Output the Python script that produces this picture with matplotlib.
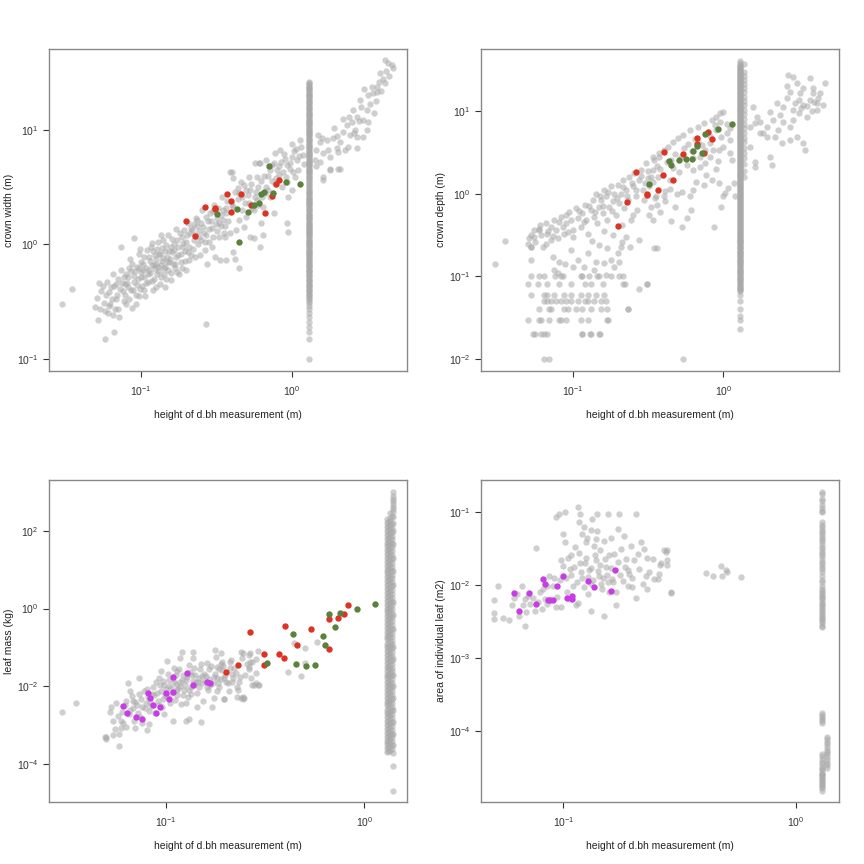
import numpy as np
import matplotlib
matplotlib.use("Agg")
import matplotlib.pyplot as plt
from matplotlib.ticker import FixedLocator, NullLocator, FuncFormatter

plt.rcParams['font.family'] = ['Liberation Sans', 'DejaVu Sans']
plt.rcParams['mathtext.fontset'] = 'custom'
plt.rcParams['mathtext.rm'] = 'Liberation Sans'
plt.rcParams['mathtext.it'] = 'Liberation Sans:italic'

GREY = '#a9a9a9'
RED = '#dd3322'
GREEN = '#5a823c'
MAGENTA = '#c83ce6'

# ---------------- crown width vs height of dbh measurement ----------------
cw_grey = [
    (0.030, 0.30), (0.035, 0.41), (0.058, 0.15), (0.067, 0.17), (0.27, 0.20),
    (0.050, 0.285), (0.053, 0.46), (0.051, 0.34), (0.054, 0.27), (0.052, 0.22), (0.055, 0.39),
    (0.057, 0.31), (0.059, 0.36), (0.060, 0.47), (0.061, 0.25), (0.063, 0.30), (0.064, 0.42),
    (0.066, 0.55), (0.067, 0.43), (0.068, 0.27), (0.069, 0.33), (0.070, 0.36), (0.071, 0.50),
    (0.072, 0.23), (0.074, 0.60), (0.074, 0.95), (0.075, 0.46), (0.076, 0.39), (0.078, 0.32),
    (0.080, 0.30), (0.080, 0.55), (0.082, 0.52), (0.083, 0.42), (0.085, 0.75), (0.086, 0.40),
    (0.087, 0.28), (0.088, 0.68), (0.090, 0.47), (0.090, 1.13), (0.092, 0.58), (0.093, 0.36),
    (0.095, 0.64), (0.096, 0.50), (0.097, 0.35), (0.098, 0.82), (0.100, 0.52), (0.100, 0.70),
    (0.102, 0.43), (0.104, 0.60), (0.105, 0.78), (0.107, 0.35), (0.108, 0.46), (0.110, 0.90),
    (0.112, 0.55), (0.114, 0.60), (0.115, 0.72), (0.117, 0.95), (0.118, 0.48), (0.120, 0.40),
    (0.122, 0.66), (0.124, 0.80), (0.126, 0.68), (0.128, 0.55), (0.130, 1.05), (0.132, 0.83),
    (0.134, 0.45), (0.136, 0.52), (0.138, 0.72), (0.140, 1.09), (0.142, 0.62), (0.145, 0.88),
    (0.146, 0.64), (0.148, 0.50), (0.150, 0.78), (0.152, 1.20), (0.155, 0.70), (0.158, 0.95),
    (0.160, 0.49), (0.162, 0.85), (0.165, 1.00), (0.168, 0.62), (0.170, 0.68), (0.172, 1.35),
    (0.175, 1.09), (0.178, 0.80), (0.180, 0.55), (0.184, 0.83), (0.187, 1.15), (0.190, 0.95),
    (0.193, 1.33), (0.196, 0.72), (0.200, 0.60), (0.200, 1.05), (0.205, 1.55), (0.210, 0.95),
    (0.213, 1.25), (0.217, 0.80), (0.220, 1.33), (0.225, 1.10), (0.230, 0.78), (0.233, 1.70),
    (0.237, 1.63), (0.240, 1.00), (0.245, 1.30), (0.250, 1.09), (0.255, 2.00), (0.260, 1.43),
    (0.265, 0.90), (0.270, 1.20), (0.276, 0.68), (0.280, 1.60), (0.285, 1.05), (0.290, 1.87),
    (0.295, 1.40), (0.300, 1.17), (0.305, 2.20), (0.310, 0.78), (0.315, 1.50), (0.320, 1.30),
    (0.330, 1.53), (0.335, 0.73), (0.340, 1.80), (0.345, 2.60), (0.350, 2.00), (0.356, 1.25),
    (0.360, 1.17), (0.365, 0.73), (0.370, 1.87), (0.375, 2.40),
    (0.056, 0.43), (0.058, 0.26), (0.062, 0.38), (0.065, 0.33), (0.066, 0.24), (0.069, 0.45),
    (0.073, 0.41), (0.077, 0.52), (0.079, 0.36), (0.081, 0.46), (0.084, 0.33), (0.086, 0.58),
    (0.089, 0.40), (0.091, 0.53), (0.094, 0.44), (0.097, 0.62), (0.099, 0.41), (0.101, 0.57),
    (0.103, 0.68), (0.106, 0.52), (0.109, 0.62), (0.111, 0.47), (0.113, 0.78), (0.116, 0.56),
    (0.119, 0.66), (0.121, 0.87), (0.123, 0.50), (0.125, 0.61), (0.127, 0.74), (0.129, 0.92),
    (0.131, 0.64), (0.133, 0.58), (0.135, 0.82), (0.137, 0.66), (0.139, 0.93), (0.141, 0.76),
    (0.143, 0.55), (0.147, 0.98), (0.149, 0.70), (0.153, 0.87), (0.157, 0.75), (0.161, 1.12),
    (0.163, 0.67), (0.167, 0.90), (0.171, 0.77), (0.176, 0.95), (0.181, 1.25), (0.186, 0.70),
    (0.191, 1.02), (0.198, 0.88), (0.203, 1.20), (0.208, 0.73), (0.215, 1.40), (0.222, 0.92),
    (0.228, 1.20), (0.235, 1.45), (0.243, 1.15), (0.252, 1.55), (0.262, 1.25), (0.272, 1.75),
    (0.283, 1.35), (0.293, 1.60), (0.303, 1.95), (0.318, 1.70), (0.325, 2.10), (0.338, 1.45),
    (0.352, 1.65), (0.368, 2.10),
    (0.062, 0.29), (0.071, 0.27), (0.079, 0.45), (0.084, 0.62), (0.093, 0.30), (0.099, 0.92),
    (0.106, 0.40), (0.119, 1.02), (0.127, 0.42), (0.137, 1.20), (0.144, 0.42), (0.151, 0.60),
    (0.159, 0.56), (0.173, 0.57), (0.189, 0.62), (0.207, 0.86), (0.226, 1.50), (0.248, 0.80),
    (0.268, 1.05), (0.298, 0.95), (0.332, 1.15), (0.362, 1.45),
    (0.38, 1.60), (0.39, 4.30), (0.39, 1.25), (0.40, 2.20), (0.40, 4.30), (0.41, 3.80),
    (0.41, 2.13), (0.41, 0.86), (0.42, 0.75), (0.42, 2.90), (0.43, 1.33), (0.44, 2.50),
    (0.45, 2.80), (0.45, 1.63), (0.45, 0.62), (0.46, 3.50), (0.47, 2.00), (0.48, 3.30),
    (0.48, 1.43), (0.49, 2.30), (0.50, 3.00), (0.50, 1.75), (0.51, 2.70), (0.52, 3.90),
    (0.53, 1.17), (0.54, 3.40), (0.55, 2.10), (0.56, 2.00), (0.56, 1.13), (0.57, 5.10),
    (0.58, 2.90), (0.59, 3.90), (0.59, 2.44), (0.60, 3.20), (0.61, 5.10), (0.62, 5.10),
    (0.62, 0.95), (0.63, 1.53), (0.64, 2.60), (0.65, 2.13), (0.65, 1.20), (0.66, 4.00),
    (0.68, 5.50), (0.68, 3.20), (0.70, 3.00), (0.72, 4.47), (0.72, 2.60), (0.74, 3.60),
    (0.76, 5.10), (0.76, 1.87), (0.78, 6.25), (0.78, 3.40), (0.80, 4.50), (0.82, 4.04),
    (0.83, 4.80), (0.84, 6.70), (0.86, 3.20), (0.88, 4.30), (0.90, 5.60), (0.93, 4.90),
    (0.93, 3.53), (0.93, 1.53), (0.95, 2.60), (0.95, 1.29), (0.97, 4.60), (1.00, 7.60),
    (1.00, 3.00), (1.00, 5.80), (1.03, 6.50), (1.05, 3.90), (1.08, 5.50), (1.10, 4.50),
    (1.14, 8.20), (1.16, 7.10), (1.18, 6.00), (1.20, 5.00),
    (0.44, 3.1), (0.47, 2.6), (0.52, 2.3), (0.53, 3.0), (0.57, 2.6), (0.60, 2.2), (0.63, 3.6),
    (0.67, 2.8), (0.70, 4.0), (0.74, 4.9), (0.79, 3.8), (0.85, 5.3), (0.89, 6.2), (0.92, 3.9),
    (0.98, 5.1), (1.02, 4.3), (1.07, 6.8), (1.12, 5.9),
    (1.43, 5.5), (1.46, 4.8), (1.46, 6.7), (1.54, 7.9), (1.54, 5.3), (1.62, 6.25), (1.62, 3.9),
    (1.71, 8.2), (1.75, 6.7), (1.79, 5.85), (1.79, 4.6), (1.89, 8.5), (1.99, 6.9), (2.03, 6.45),
    (2.09, 7.9), (2.09, 4.6), (2.2, 9.7), (2.25, 6.7), (2.31, 11.1), (2.37, 7.1), (2.44, 9.0),
    (2.5, 11.8), (2.56, 15.0), (2.63, 10.0), (2.7, 13.1), (2.7, 8.7), (2.7, 6.9), (2.84, 18.3),
    (2.99, 12.2), (2.99, 8.7), (3.14, 15.0), (3.14, 10.0), (3.22, 11.8), (3.22, 20.2),
    (3.47, 20.9), (3.66, 21.6), (3.81, 26.3), (3.85, 31.3), (4.15, 41.0), (4.15, 25.6),
    (4.37, 38.3), (4.71, 34.6), (3.3, 17.0), (3.5, 14.0), (2.9, 16.0), (3.6, 18.0), (4.0, 28.0),
    (4.4, 30.0), (3.9, 22.0), (2.4, 13.0), (2.2, 12.5), (1.9, 10.5), (3.0, 23.0), (2.6, 9.5),
    (2.8, 12.0), (3.4, 24.0), (1.6, 8.5), (4.6, 37.0), (1.5, 9.0), (2.0, 8.8), (3.7, 24.0),
    (4.2, 33.0), (1.62, 3.65), (1.79, 4.5), (2.04, 4.6),
]
# trees measured at breast height (1.3 m)
cw_bh_height = 1.3
cw_bh_width = [0.10, 0.15, 0.17, 0.19, 0.21, 0.23, 0.25, 0.27, 0.29,
               0.31, 0.33, 0.35, 0.37, 0.39, 0.41, 0.43, 0.45, 0.48, 0.50, 0.53, 0.55, 0.58,
               0.60, 0.63, 0.66, 0.69, 0.72, 0.75, 0.79, 0.82, 0.86, 0.90, 0.94, 0.98, 1.0,
               1.05, 1.1, 1.15, 1.2, 1.25, 1.3, 1.36, 1.42, 1.48, 1.55, 1.62, 1.7, 1.78, 1.85,
               1.95, 2.0, 2.1, 2.2, 2.3, 2.4, 2.5, 2.6, 2.75, 2.9, 3.0, 3.1, 3.3, 3.4, 3.6, 3.8,
               4.0, 4.2, 4.4, 4.6, 4.8, 5.0, 5.3, 5.5, 5.8, 6.0, 6.3, 6.6, 7.0, 7.3, 7.6, 8.0,
               8.4, 8.8, 9.2, 9.6, 10, 10.5, 11, 11.5, 12, 12.6, 13.2, 13.8, 14.5, 15.2, 16,
               16.8, 17.6, 18.5, 19.4, 20.3, 21.3, 22.3, 23.4, 24.5, 25.7,
               0.32, 0.34, 0.36, 0.38, 0.40, 0.42, 0.44, 0.47, 0.49, 0.52, 0.54, 0.57, 0.59,
               0.62, 0.65, 0.68, 0.71, 0.74, 0.77, 0.80, 0.84, 0.88, 0.92, 0.96, 1.02, 1.08,
               1.12, 1.18, 1.22, 1.28, 1.33, 1.39, 1.45, 1.52, 1.58, 1.66, 1.74, 1.82, 1.9,
               2.05, 2.15, 2.25, 2.35, 2.45, 2.55, 2.68, 2.82, 2.95, 3.2, 3.5, 3.7, 3.9, 4.1,
               4.3, 4.5, 4.7, 4.9, 5.15, 5.4, 5.65, 5.9, 6.15, 6.45, 6.8, 7.15, 7.45, 7.8, 8.2,
               8.6, 9.0, 9.4, 9.8, 10.2, 10.8, 11.3, 11.8, 12.3, 12.9, 13.5, 14.2, 14.9, 15.6,
               16.4, 17.2, 18.0, 19.0, 19.9, 20.8, 21.8, 22.8, 23.9, 25.1, 26.3]
cw_red_h = [0.200, 0.230, 0.265, 0.311, 0.312, 0.371, 0.398, 0.394, 0.459, 0.541, 0.666, 0.741, 0.787, 0.828]
cw_red_w = [1.59, 1.18, 2.14, 2.09, 2.04, 2.77, 2.39, 1.92, 2.77, 2.19, 1.90, 2.66, 3.35, 3.65]
cw_green_h = [0.711, 0.322, 0.437, 0.511, 0.566, 0.611, 0.630, 0.659, 0.749, 0.922, 1.13, 0.450]
cw_green_w = [4.88, 1.83, 2.04, 1.92, 2.22, 2.30, 2.77, 2.89, 2.79, 3.51, 3.37, 1.05]

# ---------------- crown depth ----------------
cd_grey = [
    (0.030, 0.142), (0.035, 0.27), (0.052, 0.16),
    (0.050, 0.25), (0.051, 0.29), (0.052, 0.32), (0.052, 0.23), (0.055, 0.37), (0.056, 0.26),
    (0.059, 0.38), (0.061, 0.32), (0.063, 0.23), (0.066, 0.44), (0.067, 0.33), (0.071, 0.40),
    (0.071, 0.28), (0.075, 0.48), (0.077, 0.37), (0.079, 0.29), (0.083, 0.53), (0.085, 0.40),
    (0.087, 0.33), (0.089, 0.44), (0.094, 0.61), (0.096, 0.48), (0.099, 0.37), (0.100, 0.30),
    (0.105, 0.67), (0.107, 0.51), (0.113, 0.40), (0.115, 0.58), (0.119, 0.74), (0.122, 0.48),
    (0.125, 0.33), (0.131, 0.64), (0.135, 0.85), (0.138, 0.53), (0.141, 1.00), (0.145, 0.44),
    (0.149, 0.70), (0.153, 0.85), (0.157, 0.58), (0.161, 1.12), (0.165, 0.93), (0.169, 0.48),
    (0.174, 0.70), (0.178, 1.23), (0.183, 0.81), (0.188, 1.00), (0.192, 0.56), (0.198, 1.28),
    (0.203, 0.78), (0.208, 1.00), (0.213, 1.48), (0.219, 0.67), (0.224, 1.12), (0.230, 0.85),
    (0.236, 1.62), (0.242, 0.48), (0.249, 1.23), (0.255, 1.78), (0.262, 0.93), (0.268, 0.64),
    (0.275, 1.48), (0.282, 1.95), (0.290, 1.12), (0.297, 0.85), (0.305, 2.35), (0.313, 1.55),
    (0.321, 1.23), (0.330, 0.70), (0.338, 1.95), (0.347, 2.60), (0.356, 0.93), (0.365, 1.62),
    (0.375, 2.80),
    (0.06, 0.42), (0.068, 0.36), (0.073, 0.31), (0.081, 0.45), (0.09, 0.55), (0.092, 0.35),
    (0.11, 0.62), (0.118, 0.45), (0.128, 0.72), (0.14, 0.60), (0.15, 0.95), (0.158, 0.72),
    (0.17, 1.05), (0.18, 0.62), (0.195, 0.9), (0.215, 1.2), (0.227, 0.95), (0.245, 1.35),
    (0.26, 1.1), (0.285, 1.65), (0.3, 1.35), (0.315, 1.9), (0.34, 1.4), (0.36, 2.2),
    (0.87, 0.40), (0.57, 0.51), (0.53, 0.40), (0.61, 0.64), (0.45, 0.47), (0.48, 0.70),
    (0.38, 0.61), (0.41, 0.81), (0.97, 0.70), (1.03, 1.02), (0.99, 0.93), (0.94, 1.35),
    (0.90, 1.99), (0.84, 1.48), (0.77, 1.70), (0.74, 1.29), (0.66, 1.41), (0.63, 1.12),
    (0.60, 0.93), (0.53, 1.04), (0.49, 1.00), (0.44, 1.14), (0.40, 0.93), (0.36, 0.74),
    (0.32, 0.56), (0.34, 0.48), (1.17, 1.35), (1.20, 0.93), (1.08, 1.17), (1.14, 2.58),
    (1.11, 3.10),
    (1.00, 9.9), (0.95, 9.5), (0.90, 8.6), (0.84, 7.9), (0.74, 7.2), (0.68, 6.5), (0.60, 5.95),
    (0.54, 5.2), (0.50, 4.7), (0.46, 4.3), (0.43, 3.7), (0.40, 3.4), (0.37, 3.1), (0.34, 2.83),
    (0.90, 5.95), (0.97, 4.95), (1.05, 5.4), (1.11, 4.5), (1.00, 3.7), (0.93, 3.4), (0.81, 4.1),
    (0.86, 3.4), (0.75, 3.4), (0.70, 2.83), (0.63, 2.7), (0.57, 2.24), (0.51, 1.86), (0.46, 2.05),
    (0.70, 2.14), (0.63, 1.95), (0.75, 2.35), (0.81, 2.83), (0.44, 1.48), (0.33, 1.62),
    (0.35, 0.89), (0.41, 1.07), (0.78, 5.5), (0.65, 4.6), (0.55, 3.6), (0.48, 3.0), (0.42, 2.4),
    (0.88, 6.8), (0.95, 7.4), (0.72, 3.9), (0.62, 3.3), (0.52, 2.8), (0.45, 2.6), (0.38, 2.0),
    (1.05, 7.0), (0.82, 5.0), (0.68, 4.2), (0.58, 4.0), (0.92, 2.5), (1.1, 6.2),
    (0.064, 0.10), (0.075, 0.12), (0.088, 0.14), (0.108, 0.16), (0.125, 0.19), (0.148, 0.24),
    (0.118, 0.13), (0.134, 0.27), (0.185, 0.32), (0.16, 0.36), (0.21, 0.42), (0.25, 0.55),
    # quantised small crowns
    (0.052, 0.10), (0.059, 0.10), (0.0755, 0.10), (0.083, 0.10), (0.115, 0.10), (0.128, 0.10),
    (0.145, 0.10), (0.178, 0.10), (0.203, 0.10),
    (0.050, 0.08), (0.058, 0.08), (0.067, 0.08), (0.080, 0.08), (0.096, 0.08), (0.120, 0.08),
    (0.131, 0.08), (0.157, 0.08), (0.213, 0.08),
    (0.052, 0.06), (0.064, 0.06), (0.067, 0.06), (0.075, 0.06), (0.087, 0.06), (0.096, 0.06),
    (0.113, 0.06), (0.125, 0.06), (0.142, 0.06), (0.161, 0.06),
    (0.064, 0.05), (0.067, 0.05), (0.071, 0.05), (0.077, 0.05), (0.083, 0.05), (0.089, 0.05),
    (0.096, 0.05), (0.107, 0.05), (0.119, 0.05), (0.125, 0.05), (0.138, 0.05), (0.153, 0.05),
    (0.165, 0.05),
    (0.059, 0.04), (0.069, 0.04), (0.071, 0.04), (0.087, 0.04), (0.092, 0.04), (0.104, 0.04),
    (0.115, 0.04), (0.131, 0.04), (0.153, 0.04), (0.169, 0.04), (0.230, 0.04),
    (0.050, 0.03), (0.059, 0.03), (0.061, 0.03), (0.069, 0.03), (0.081, 0.03), (0.083, 0.03),
    (0.089, 0.03), (0.113, 0.03), (0.125, 0.03), (0.169, 0.03),
    (0.054, 0.02), (0.056, 0.02), (0.061, 0.02), (0.064, 0.02), (0.067, 0.02), (0.115, 0.02),
    (0.131, 0.02), (0.149, 0.02),
    (0.064, 0.01), (0.069, 0.01), (0.54, 0.01),
    (0.052, 0.23), (0.055, 0.30), (0.059, 0.37), (0.066, 0.25), (0.073, 0.17), (0.079, 0.11),
    (0.081, 0.15), (0.085, 0.10), (0.096, 0.21), (0.099, 0.13), (0.113, 0.10), (0.138, 0.12),
    (0.141, 0.15), (0.149, 0.10), (0.161, 0.145), (0.165, 0.105), (0.169, 0.22), (0.188, 0.13),
    (0.198, 0.19), (0.203, 0.15), (0.213, 0.10), (0.22, 0.08), (0.178, 0.16), (0.208, 0.23),
    (0.224, 0.30), (0.275, 0.28), (0.31, 0.08), (0.346, 0.22), (0.21, 0.26), (0.24, 0.23),
    (0.275, 0.07), (0.31, 0.081), (0.36, 0.22), (0.23, 0.04), (0.17, 0.03), (0.13, 0.02),
    (0.15, 0.02), (0.115, 0.02),
    # beyond breast height
    (1.58, 11.4), (1.67, 8.6), (1.62, 7.2), (1.50, 6.5), (1.76, 7.5), (1.95, 6.5), (1.85, 5.4),
    (2.05, 9.9), (2.27, 12.5), (2.15, 7.9), (2.32, 5.95), (2.51, 11.4), (2.64, 14.4),
    (2.78, 17.3), (2.71, 27.5), (2.93, 26.3), (3.17, 13.8), (3.24, 16.5), (3.41, 12.0),
    (3.59, 8.6), (3.77, 13.8), (3.97, 16.5), (4.18, 12.5), (4.64, 12.0), (4.77, 21.8),
    (3.77, 25.0), (3.97, 19.0), (3.10, 21.8), (2.64, 20.0), (2.51, 7.5), (2.78, 6.5),
    (3.10, 4.95), (3.41, 4.1), (3.50, 3.4), (2.78, 4.5), (2.45, 4.1), (2.05, 2.83), (2.10, 2.24),
    (1.62, 2.46), (1.62, 2.14), (1.50, 3.7), (1.95, 4.95), (2.93, 7.9), (3.17, 9.5),
    (4.18, 10.5), (4.43, 16.5), (4.30, 14.4), (3.41, 19.0), (2.21, 4.95), (1.76, 5.4),
    (3.3, 11.0), (3.6, 11.5), (3.9, 10.0), (2.9, 10.5), (2.4, 9.0), (4.0, 13.0), (3.0, 12.5),
]
# breast-height column: (x position, depths)
cd_bh_columns = [
    (1.30, [0.023, 0.030, 0.033, 0.040, 0.050, 0.060,
            0.066, 0.07, 0.075, 0.08, 0.085, 0.09, 0.095, 0.10, 0.106, 0.112, 0.118, 0.125,
            0.132, 0.14, 0.148, 0.156, 0.165, 0.175, 0.185, 0.195, 0.205, 0.22, 0.23, 0.245,
            0.26, 0.27, 0.285, 0.30, 0.32, 0.34, 0.36, 0.38, 0.40, 0.42, 0.44, 0.47, 0.50,
            0.53, 0.56, 0.59, 0.62, 0.66, 0.70, 0.74, 0.78, 0.82, 0.87, 0.92, 0.97, 1.02,
            1.08, 1.14, 1.2, 1.27, 1.34, 1.42, 1.5, 1.58, 1.67, 1.76, 1.86, 1.97, 2.08, 2.2,
            2.3, 2.45, 2.6, 2.75, 2.9, 3.05, 3.2, 3.4, 3.6, 3.8, 4.0, 4.2, 4.45, 4.7, 4.95,
            5.2, 5.5, 5.8, 6.1, 6.5, 6.8, 7.2, 7.6, 8.0, 8.5, 9.0, 9.5, 10, 10.5, 11.1, 11.7,
            12.4, 13.1, 13.8, 14.6, 15.4, 16.3, 17.2, 18.2, 19.2, 20.3, 21.4, 22.6, 23.9,
            25.2, 26.6, 28.1, 29.7, 31.4, 33.2, 35, 41]),
    (1.38, [1.6, 1.9, 2.3, 2.7, 3.1, 3.6, 4.2, 4.8, 5.5, 6.3, 7.1, 8.1, 9.2, 10.4, 11.8, 13.3,
            15.0, 17.0, 19.0, 21.5, 24.0, 27.0, 30.0, 37]),
    (1.30, [0.068, 0.072, 0.077, 0.082, 0.087, 0.092, 0.097, 0.103, 0.109, 0.115, 0.121,
            0.128, 0.136, 0.144, 0.152, 0.160, 0.170, 0.180, 0.190, 0.200, 0.212, 0.225,
            0.237, 0.252, 0.265, 0.278, 0.292, 0.31, 0.33, 0.35, 0.37, 0.39, 0.41, 0.43,
            0.455, 0.485, 0.515, 0.545, 0.575, 0.605, 0.64, 0.68, 0.72, 0.76, 0.80, 0.845,
            0.895, 0.945, 0.995, 1.05, 1.11, 1.17, 1.235, 1.305, 1.38, 1.46, 1.54, 1.625,
            1.715, 1.81, 1.915, 2.02, 2.14, 2.25, 2.37, 2.52, 2.67, 2.82, 2.97, 3.12, 3.3,
            3.5, 3.7, 3.9, 4.1, 4.32, 4.57, 4.82, 5.07, 5.35, 5.65, 5.95, 6.3, 6.65, 7.0,
            7.4, 7.8, 8.25, 8.75, 9.25, 9.75, 10.25, 10.8, 11.4, 12.0, 12.7, 13.4, 14.2,
            15.0, 15.8, 16.7, 17.7, 18.7, 19.7, 20.8, 22.0, 23.2, 24.5, 25.9, 27.3, 28.9,
            30.5, 32.3, 34.0, 36.0, 38.0]),
]
cd_red_h = [0.200, 0.229, 0.264, 0.308, 0.310, 0.369, 0.394, 0.400, 0.459, 0.541, 0.664, 0.664, 0.743, 0.794, 0.836]
cd_red_d = [0.403, 0.793, 1.85, 0.98, 1.01, 1.10, 1.70, 3.25, 1.48, 3.02, 4.76, 3.99, 3.16, 5.68, 4.67]
cd_green_h = [0.319, 0.434, 0.450, 0.509, 0.567, 0.618, 0.631, 0.664, 0.717, 0.755, 0.926, 1.14]
cd_green_d = [1.30, 2.51, 2.22, 2.60, 2.63, 2.63, 3.28, 3.81, 3.13, 5.37, 6.06, 7.03]

# ---------------- leaf mass ----------------
lm_grey = [
    (0.030, 0.0022), (0.035, 0.0038), (0.050, 0.0005), (0.050, 0.00043), (0.058, 0.00029),
    (0.054, 0.00054), (0.049, 0.0005),
    (0.052, 0.0022), (0.053, 0.0029), (0.054, 0.0013), (0.056, 0.0038), (0.059, 0.0013),
    (0.059, 0.00085), (0.060, 0.0022), (0.063, 0.0042), (0.064, 0.0119), (0.066, 0.0074),
    (0.068, 0.0042), (0.068, 0.0027), (0.069, 0.0013), (0.070, 0.00085), (0.073, 0.016),
    (0.074, 0.0016), (0.077, 0.0074), (0.079, 0.0038), (0.080, 0.00074), (0.082, 0.00108),
    (0.082, 0.0023), (0.085, 0.0065), (0.089, 0.0132), (0.092, 0.0163), (0.094, 0.0253),
    (0.092, 0.0032), (0.096, 0.0048), (0.098, 0.0019), (0.100, 0.0085), (0.101, 0.045),
    (0.103, 0.0147), (0.105, 0.0036), (0.108, 0.0013), (0.112, 0.0117), (0.112, 0.0196),
    (0.114, 0.0058), (0.118, 0.052), (0.116, 0.028), (0.121, 0.0147), (0.123, 0.0081),
    (0.126, 0.0037), (0.126, 0.0013), (0.128, 0.021), (0.130, 0.0014), (0.133, 0.0062),
    (0.136, 0.052), (0.139, 0.030), (0.141, 0.0132), (0.144, 0.0029), (0.147, 0.0098),
    (0.150, 0.038), (0.153, 0.0042), (0.159, 0.0182), (0.162, 0.0081), (0.165, 0.027),
    (0.171, 0.0029), (0.175, 0.0051), (0.178, 0.057), (0.181, 0.0163), (0.185, 0.0098),
    (0.192, 0.042), (0.192, 0.0255), (0.196, 0.0048), (0.200, 0.013), (0.208, 0.0074),
    (0.212, 0.046), (0.216, 0.021), (0.220, 0.030), (0.229, 0.0098), (0.239, 0.0051),
    (0.242, 0.052), (0.247, 0.0051), (0.257, 0.038), (0.262, 0.027), (0.277, 0.0107),
    (0.294, 0.0107), (0.266, 0.042),
    (0.27, 0.0105), (0.29, 0.011), (0.41, 0.023), (0.44, 0.128), (0.48, 0.018), (0.50, 0.098),
    (0.50, 0.039), (0.58, 0.138), (0.29, 0.08), (0.265, 0.07), (0.245, 0.07), (0.21, 0.043),
    (0.19, 0.037), (0.18, 0.032), (0.23, 0.008), (0.244, 0.0046), (0.195, 0.0048), (0.15, 0.0012),
    (0.12, 0.076), (0.136, 0.078), (0.176, 0.086), (0.19, 0.07), (0.238, 0.074), (0.262, 0.064),
    (0.283, 0.050), (0.272, 0.043), (0.262, 0.032), (0.283, 0.0118), (0.243, 0.0052),
    (0.229, 0.0052),
    (0.057, 0.0017), (0.061, 0.0011), (0.062, 0.0032), (0.065, 0.0019), (0.067, 0.0055),
    (0.071, 0.0033), (0.072, 0.0021), (0.075, 0.0048), (0.076, 0.0011), (0.078, 0.0027),
    (0.081, 0.0052), (0.084, 0.0031), (0.086, 0.0095), (0.088, 0.0021), (0.090, 0.0068),
    (0.093, 0.0110), (0.095, 0.0029), (0.097, 0.0140), (0.099, 0.0060), (0.102, 0.0210),
    (0.104, 0.0100), (0.107, 0.0068), (0.109, 0.0160), (0.111, 0.0045), (0.113, 0.0240),
    (0.115, 0.0090), (0.117, 0.0125), (0.119, 0.0035), (0.122, 0.0190), (0.124, 0.0110),
    (0.127, 0.0170), (0.129, 0.0052), (0.132, 0.0230), (0.134, 0.0095), (0.137, 0.0140),
    (0.140, 0.0200), (0.143, 0.0068), (0.146, 0.0160), (0.149, 0.0270), (0.152, 0.0120),
    (0.156, 0.0210), (0.160, 0.0095), (0.164, 0.0150), (0.168, 0.0330), (0.172, 0.0120),
    (0.176, 0.0210), (0.180, 0.0075), (0.184, 0.0270), (0.189, 0.0150), (0.194, 0.0340),
    (0.199, 0.0200), (0.205, 0.0120), (0.211, 0.0300), (0.218, 0.0160), (0.225, 0.0220),
    (0.233, 0.0130), (0.251, 0.0200), (0.268, 0.0160), (0.285, 0.0220),
    (0.055, 0.0008), (0.058, 0.0006), (0.063, 0.0009), (0.066, 0.0025), (0.070, 0.0040),
    (0.073, 0.0062), (0.076, 0.0030), (0.080, 0.0085), (0.083, 0.0040), (0.087, 0.0058),
    (0.091, 0.0042), (0.094, 0.0075), (0.098, 0.0110), (0.101, 0.0052), (0.106, 0.0090),
    (0.110, 0.0130), (0.114, 0.0078), (0.118, 0.0100), (0.122, 0.0060), (0.126, 0.0145),
    (0.131, 0.0082), (0.135, 0.0190), (0.139, 0.0110), (0.145, 0.0125), (0.151, 0.0180),
    (0.158, 0.0140), (0.166, 0.0110), (0.174, 0.0175), (0.183, 0.0120), (0.197, 0.0160),
    (0.215, 0.0130), (0.235, 0.0170), (0.11, 0.030), (0.13, 0.036), (0.16, 0.040),
]
lm_bh_columns = [
    (1.30, [0.0002, 0.00025, 0.00032, 0.0004, 0.0005, 0.00063, 0.0008, 0.001, 0.00125, 0.0016,
            0.002, 0.0025, 0.0032, 0.004, 0.005, 0.0063, 0.008, 0.01, 0.0125, 0.016, 0.02,
            0.025, 0.032, 0.04, 0.05, 0.063, 0.08, 0.1, 0.125, 0.16, 0.2, 0.25, 0.32, 0.4, 0.5,
            0.63, 0.8, 1, 1.25, 1.6, 2, 2.5, 3.2, 4, 5, 6.3, 8, 10, 12.5, 16, 20, 25, 32, 40,
            50, 63, 80, 100, 125, 160, 200]),
    (1.35, [0.00022, 0.00028, 0.00036, 0.00045, 0.00056, 0.0007, 0.0009, 0.0011, 0.0014,
            0.0018, 0.0022, 0.0028, 0.0036, 0.0045, 0.0056, 0.007, 0.009, 0.011, 0.014, 0.018,
            0.022, 0.028, 0.036, 0.045, 0.056, 0.07, 0.09, 0.11, 0.14, 0.18, 0.22, 0.28, 0.36,
            0.45, 0.56, 0.7, 0.9, 1.1, 1.4, 1.8, 2.2, 2.8, 3.6, 4.5, 5.6, 7, 9, 11, 14, 18,
            22, 28, 36, 45, 56, 70, 90, 110, 140, 180, 220, 280]),
    (1.40, [0.00002, 0.00009, 0.00019, 0.0003, 0.0006, 0.0012, 0.0025, 0.005, 0.01, 0.02, 0.05,
            0.1, 0.3, 0.7, 1.5, 4, 9, 20, 45, 100, 160, 230, 300, 360, 420, 500, 580, 680,
            800, 980]),
    (1.32, [0.00021, 0.00027, 0.00034, 0.00042, 0.00053, 0.00067, 0.00085, 0.00105, 0.0013,
            0.0017, 0.0021, 0.0027, 0.0034, 0.0042, 0.0053, 0.0067, 0.0085, 0.0105, 0.013,
            0.017, 0.021, 0.027, 0.034, 0.042, 0.053, 0.067, 0.085, 0.105, 0.13, 0.17, 0.21,
            0.27, 0.34, 0.42, 0.53, 0.67, 0.85, 1.05, 1.3, 1.7, 2.1, 2.7, 3.4, 4.2, 5.3, 6.7,
            8.5, 10.5, 13, 17, 21, 27, 34, 42, 53, 67, 85, 105, 130, 170]),
    (1.38, [0.00024, 0.0003, 0.00038, 0.00048, 0.0006, 0.00075, 0.00095, 0.0012, 0.0015,
            0.0019, 0.0024, 0.003, 0.0038, 0.0048, 0.006, 0.0075, 0.0095, 0.012, 0.015, 0.019,
            0.024, 0.03, 0.038, 0.048, 0.06, 0.075, 0.095, 0.12, 0.15, 0.19, 0.24, 0.3, 0.38,
            0.48, 0.6, 0.75, 0.95, 1.2, 1.5, 1.9, 2.4, 3.0, 3.8, 4.8, 6.0, 7.5, 9.5, 12, 15,
            19, 24, 30, 38, 48, 60, 75, 95, 120, 150, 240]),
]
lm_red_h = [0.200, 0.230, 0.265, 0.310, 0.310, 0.370, 0.395, 0.400, 0.459, 0.541, 0.664, 0.666, 0.740, 0.793, 0.830]
lm_red_m = [0.0228, 0.0352, 0.250, 0.0664, 0.0359, 0.0677, 0.0524, 0.364, 0.116, 0.305, 0.552, 0.0893, 0.574, 0.728, 1.22]
lm_green_h = [0.321, 0.435, 0.451, 0.510, 0.566, 0.617, 0.631, 0.664, 0.711, 0.751, 0.922, 1.13]
lm_green_m = [0.0405, 0.222, 0.0374, 0.0325, 0.0352, 0.201, 0.116, 0.714, 0.337, 0.758, 1.00, 1.29]
lm_mag_h = [0.0609, 0.0638, 0.0709, 0.0757, 0.0809, 0.0827, 0.0857, 0.0887, 0.0936, 0.100,
            0.104, 0.109, 0.109, 0.128, 0.136, 0.160, 0.166]
lm_mag_m = [0.00308, 0.00204, 0.0016, 0.00146, 0.0068, 0.00486, 0.00327, 0.00204, 0.0029, 0.00655,
            0.00458, 0.00708, 0.0169, 0.0219, 0.0107, 0.0126, 0.0119]

# ---------------- area of individual leaf ----------------
la_grey = [
    (0.050, 0.0062), (0.050, 0.0042), (0.050, 0.0034), (0.052, 0.0097), (0.055, 0.0036),
    (0.058, 0.0033), (0.060, 0.0054), (0.061, 0.0068), (0.063, 0.0076), (0.064, 0.0038),
    (0.066, 0.0099), (0.067, 0.0053), (0.068, 0.0065), (0.068, 0.0028), (0.069, 0.0043),
    (0.070, 0.0072), (0.072, 0.0055), (0.074, 0.0068), (0.075, 0.0045), (0.076, 0.032),
    (0.079, 0.0080), (0.081, 0.0047), (0.083, 0.0065), (0.085, 0.0099), (0.085, 0.0055),
    (0.087, 0.0136), (0.090, 0.0099), (0.093, 0.0050), (0.093, 0.086), (0.096, 0.095),
    (0.098, 0.0050), (0.098, 0.022), (0.100, 0.051), (0.102, 0.039), (0.102, 0.100),
    (0.103, 0.0125), (0.105, 0.024), (0.107, 0.0168), (0.107, 0.0065), (0.110, 0.0099),
    (0.113, 0.0053), (0.115, 0.118), (0.117, 0.074), (0.117, 0.028), (0.118, 0.095),
    (0.118, 0.020), (0.120, 0.051), (0.120, 0.0125), (0.123, 0.062), (0.125, 0.039),
    (0.125, 0.024), (0.127, 0.0076), (0.129, 0.016), (0.131, 0.0104), (0.133, 0.081),
    (0.135, 0.035), (0.138, 0.043), (0.138, 0.022), (0.140, 0.095), (0.140, 0.055),
    (0.142, 0.0136), (0.145, 0.0104), (0.147, 0.0089), (0.150, 0.041), (0.152, 0.018),
    (0.155, 0.095), (0.155, 0.011), (0.157, 0.026), (0.162, 0.0122), (0.165, 0.027),
    (0.168, 0.0080), (0.174, 0.095), (0.177, 0.031), (0.180, 0.0116), (0.183, 0.048),
    (0.186, 0.023), (0.190, 0.016), (0.192, 0.0143), (0.195, 0.035), (0.198, 0.0094),
    (0.202, 0.022), (0.205, 0.095), (0.209, 0.027), (0.212, 0.0168), (0.216, 0.039),
    (0.220, 0.0104), (0.223, 0.031), (0.226, 0.0136), (0.230, 0.024), (0.234, 0.015),
    (0.242, 0.023), (0.246, 0.0122), (0.255, 0.0122), (0.258, 0.0143), (0.263, 0.020),
    (0.271, 0.030), (0.276, 0.029), (0.280, 0.022), (0.290, 0.0080), (0.205, 0.0068),
    (0.168, 0.0053), (0.150, 0.0038), (0.131, 0.0045), (0.115, 0.0058), (0.157, 0.0080),
    (0.190, 0.0099), (0.230, 0.0089), (0.28, 0.019), (0.26, 0.019), (0.28, 0.030),
    (0.41, 0.0148), (0.44, 0.0134), (0.475, 0.0183), (0.48, 0.0133), (0.50, 0.016),
    (0.505, 0.015), (0.58, 0.0128), (0.29, 0.0078),
    (0.094, 0.0070), (0.097, 0.0120), (0.104, 0.0080), (0.108, 0.0140), (0.111, 0.0180),
    (0.114, 0.0110), (0.119, 0.0150), (0.122, 0.0095), (0.124, 0.0200), (0.128, 0.0130),
    (0.132, 0.0170), (0.134, 0.0120), (0.137, 0.0260), (0.141, 0.0155), (0.144, 0.0190),
    (0.148, 0.0125), (0.151, 0.0230), (0.154, 0.0140), (0.160, 0.0175), (0.163, 0.0110),
    (0.171, 0.0210), (0.176, 0.0140), (0.185, 0.0180), (0.197, 0.0125), (0.108, 0.026),
    (0.112, 0.033), (0.126, 0.045), (0.132, 0.058), (0.144, 0.030), (0.160, 0.045),
    (0.171, 0.060), (0.100, 0.0185), (0.091, 0.0125), (0.082, 0.0088), (0.078, 0.0059),
]
la_bh_columns = [
    (1.30, [0.19, 0.18, 0.15, 0.145, 0.125, 0.115, 0.105, 0.10,
            0.073, 0.068, 0.063, 0.058, 0.054, 0.050, 0.046, 0.043, 0.040, 0.037, 0.034,
            0.031, 0.029, 0.027, 0.025, 0.023, 0.021, 0.0195, 0.018, 0.0166, 0.015, 0.0135,
            0.012, 0.011, 0.0098, 0.009, 0.0084, 0.0079, 0.0074, 0.007, 0.0066, 0.0062,
            0.0058, 0.0055, 0.0052, 0.0049, 0.0046, 0.0043, 0.004, 0.0038, 0.0036, 0.0034,
            0.0032, 0.003, 0.0028, 0.0027,
            1.77e-4, 1.65e-4, 1.55e-4, 1.45e-4, 1.38e-4, 1.3e-4,
            4.9e-5, 4.5e-5, 4.1e-5, 3.8e-5, 3.5e-5, 3.2e-5, 2.9e-5, 2.6e-5, 2.4e-5, 2.2e-5,
            2.0e-5, 1.8e-5, 1.65e-5, 1.5e-5, 3.0e-5, 2.7e-5, 2.5e-5, 2.3e-5, 2.1e-5, 1.9e-5,
            1.7e-5]),
    (1.36, [8.4e-5, 7.8e-5, 7.2e-5, 6.6e-5, 6.1e-5, 5.6e-5, 5.2e-5, 4.8e-5, 4.4e-5, 4.0e-5,
            3.7e-5, 3.4e-5, 3.1e-5]),
]
la_mag_h = [0.0613, 0.0642, 0.0711, 0.0760, 0.0812, 0.0834, 0.0859, 0.0879, 0.0900, 0.094,
            0.100, 0.104, 0.109, 0.109, 0.128, 0.136, 0.160, 0.166]
la_mag_a = [0.00783, 0.00448, 0.00793, 0.00553, 0.0121, 0.0105, 0.00622, 0.0062, 0.0062, 0.00989,
            0.0136, 0.0067, 0.00713, 0.00641, 0.0116, 0.00948, 0.00826, 0.0161]

XLABEL = 'height of d.bh measurement (m)'
PT = 21


def decade(v, pos):
    return r'$10^{%d}$' % int(round(np.log10(v)))


def style(ax, xlim, ylim, yticks, ylabel):
    ax.set_xscale('log')
    ax.set_yscale('log')
    ax.set_xlim(xlim)
    ax.set_ylim(ylim)
    ax.xaxis.set_major_locator(FixedLocator([0.1, 1]))
    ax.yaxis.set_major_locator(FixedLocator(yticks))
    ax.xaxis.set_minor_locator(NullLocator())
    ax.yaxis.set_minor_locator(NullLocator())
    ax.xaxis.set_major_formatter(FuncFormatter(decade))
    ax.yaxis.set_major_formatter(FuncFormatter(decade))
    ax.tick_params(direction='out', length=4.5, width=0.8, colors='#333333', labelsize=7.5)
    ax.tick_params(axis='x', pad=5)
    ax.tick_params(axis='y', pad=3)
    for s in ax.spines.values():
        s.set_color('#888888')
        s.set_linewidth(1.0)
    ax.set_xlabel(XLABEL, fontsize=7.5, color='#222222')
    ax.set_ylabel(ylabel, fontsize=7.5, color='#222222', va='center')
    ax.xaxis.set_label_coords(0.5, -0.12)
    ax.yaxis.set_label_coords(-0.112, 0.5)


def grey(ax, x, y):
    ax.scatter(x, y, s=PT, c=GREY, alpha=0.55, linewidths=0, zorder=1)


def grey_columns(ax, columns):
    for xpos, ys in columns:
        grey(ax, [xpos] * len(ys), ys)


def dots(ax, x, y, col):
    ax.scatter(x, y, s=PT, c=col, linewidths=0, zorder=3)


fig = plt.figure(figsize=(8.64, 8.64), dpi=100)
ax1 = fig.add_axes([0.0567, 0.5706, 0.4144, 0.3727])
ax2 = fig.add_axes([0.5567, 0.5706, 0.4144, 0.3727])
ax3 = fig.add_axes([0.0567, 0.0718, 0.4144, 0.3727])
ax4 = fig.add_axes([0.5567, 0.0718, 0.4144, 0.3727])

# crown width
gx, gy = zip(*cw_grey)
grey(ax1, gx, gy)
grey_columns(ax1, [(cw_bh_height, cw_bh_width)])
dots(ax1, cw_red_h, cw_red_w, RED)
dots(ax1, cw_green_h, cw_green_w, GREEN)
style(ax1, (0.0247, 5.81), (0.078, 51.2), [0.1, 1, 10], 'crown width (m)')

# crown depth
gx, gy = zip(*cd_grey)
grey(ax2, gx, gy)
grey_columns(ax2, cd_bh_columns)
dots(ax2, cd_red_h, cd_red_d, RED)
dots(ax2, cd_green_h, cd_green_d, GREEN)
style(ax2, (0.0243, 5.90), (0.00716, 56.8), [0.01, 0.1, 1, 10], 'crown depth (m)')

# leaf mass
gx, gy = zip(*lm_grey)
grey(ax3, gx, gy)
grey_columns(ax3, lm_bh_columns)
dots(ax3, lm_red_h, lm_red_m, RED)
dots(ax3, lm_green_h, lm_green_m, GREEN)
dots(ax3, lm_mag_h, lm_mag_m, MAGENTA)
style(ax3, (0.0257, 1.64), (1.05e-5, 2042), [1e-4, 1e-2, 1, 100], 'leaf mass (kg)')

# leaf area
gx, gy = zip(*la_grey)
grey(ax4, gx, gy)
grey_columns(ax4, la_bh_columns)
dots(ax4, la_mag_h, la_mag_a, MAGENTA)
style(ax4, (0.0441, 1.54), (1.07e-5, 0.278), [1e-4, 1e-3, 1e-2, 1e-1], 'area of individual leaf (m2)')

fig.savefig('out.png', dpi=100)
